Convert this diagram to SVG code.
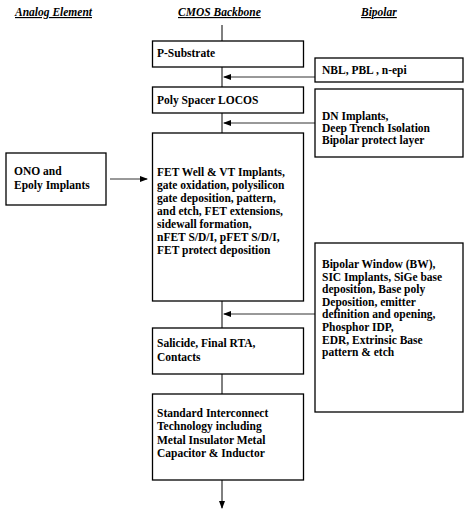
<svg xmlns="http://www.w3.org/2000/svg" width="464" height="512" viewBox="0 0 464 512">
<defs>
<marker id="ah" markerWidth="8" markerHeight="6" refX="7" refY="3" orient="auto" markerUnits="userSpaceOnUse">
<path d="M0,0 L8,3 L0,6 z" fill="#000"/>
</marker>
<style>
.box{fill:#fff;stroke:#000;stroke-width:1.3}
.t{font-family:"Liberation Serif","Times New Roman",serif;font-weight:bold;font-size:11.5px;fill:#000}
.h{font-family:"Liberation Serif","Times New Roman",serif;font-weight:bold;font-style:italic;font-size:11.5px;fill:#000;text-decoration:underline}
.c{fill:none;stroke:#000;stroke-width:1}
.d{fill:none;stroke:#333;stroke-width:1}
</style>
</defs>
<rect width="464" height="512" fill="#fff"/>
<g id="headers">
<text class="h" x="15" y="16">Analog Element</text>
<text class="h" x="178" y="16">CMOS Backbone</text>
<text class="h" x="361" y="16">Bipolar</text>
</g>
<g id="connectors">
<line class="c" x1="222" y1="25" x2="222" y2="41"/>
<line class="c" x1="222" y1="67" x2="222" y2="87"/>
<line class="c" x1="222" y1="113" x2="222" y2="133"/>
<line class="c" x1="222" y1="301" x2="222" y2="328"/>
<line class="c" x1="222" y1="374" x2="222" y2="394"/>
<line class="c" x1="222" y1="480" x2="222" y2="508" marker-end="url(#ah)"/>
<line class="d" x1="315" y1="77" x2="224" y2="77" marker-end="url(#ah)"/>
<line class="d" x1="315" y1="123" x2="224" y2="123" marker-end="url(#ah)"/>
<line class="d" x1="315" y1="314" x2="224" y2="314" marker-end="url(#ah)"/>
<line class="d" x1="110" y1="179" x2="147" y2="179" marker-end="url(#ah)"/>
</g>
<g id="p-substrate">
<rect class="box" x="152.5" y="41" width="151" height="26"/>
<text class="t" x="157" y="57">P-Substrate</text>
</g>
<g id="nbl">
<rect class="box" x="315" y="58" width="148" height="24"/>
<text class="t" x="322" y="74">NBL, PBL , n-epi</text>
</g>
<g id="poly-spacer">
<rect class="box" x="152.5" y="87" width="151" height="26"/>
<text class="t" x="157" y="104">Poly Spacer LOCOS</text>
</g>
<g id="dn">
<rect class="box" x="315" y="89" width="148" height="68"/>
<text class="t" x="322" y="120">DN Implants,</text>
<text class="t" x="322" y="132">Deep Trench Isolation</text>
<text class="t" x="322" y="144">Bipolar protect layer</text>
</g>
<g id="ono">
<rect class="box" x="6" y="153" width="100" height="52"/>
<text class="t" x="14" y="175">ONO and</text>
<text class="t" x="14" y="189">Epoly Implants</text>
</g>
<g id="fet">
<rect class="box" x="152.5" y="133" width="151" height="168"/>
<text class="t" x="157" y="176">FET Well &amp; VT Implants,</text>
<text class="t" x="157" y="189">gate oxidation, polysilicon</text>
<text class="t" x="157" y="202">gate deposition, pattern,</text>
<text class="t" x="157" y="215">and etch, FET extensions,</text>
<text class="t" x="157" y="228">sidewall formation,</text>
<text class="t" x="157" y="241">nFET S/D/I, pFET S/D/I,</text>
<text class="t" x="157" y="254">FET protect deposition</text>
</g>
<g id="bipolar-window">
<rect class="box" x="315" y="243" width="148" height="169"/>
<text class="t" x="322" y="268">Bipolar Window (BW),</text>
<text class="t" x="322" y="280.6">SIC Implants, SiGe base</text>
<text class="t" x="322" y="293.2">deposition, Base poly</text>
<text class="t" x="322" y="305.8">Deposition, emitter</text>
<text class="t" x="322" y="318.4">definition and opening,</text>
<text class="t" x="322" y="331">Phosphor IDP,</text>
<text class="t" x="322" y="343.6">EDR, Extrinsic Base</text>
<text class="t" x="322" y="356.2">pattern &amp; etch</text>
</g>
<g id="salicide">
<rect class="box" x="152.5" y="328" width="151" height="46"/>
<text class="t" x="157" y="347">Salicide, Final RTA,</text>
<text class="t" x="157" y="361">Contacts</text>
</g>
<g id="interconnect">
<rect class="box" x="152.5" y="394" width="151" height="86"/>
<text class="t" x="157" y="417">Standard Interconnect</text>
<text class="t" x="157" y="430.3">Technology including</text>
<text class="t" x="157" y="443.6">Metal Insulator Metal</text>
<text class="t" x="157" y="457">Capacitor &amp; Inductor</text>
</g>
</svg>
